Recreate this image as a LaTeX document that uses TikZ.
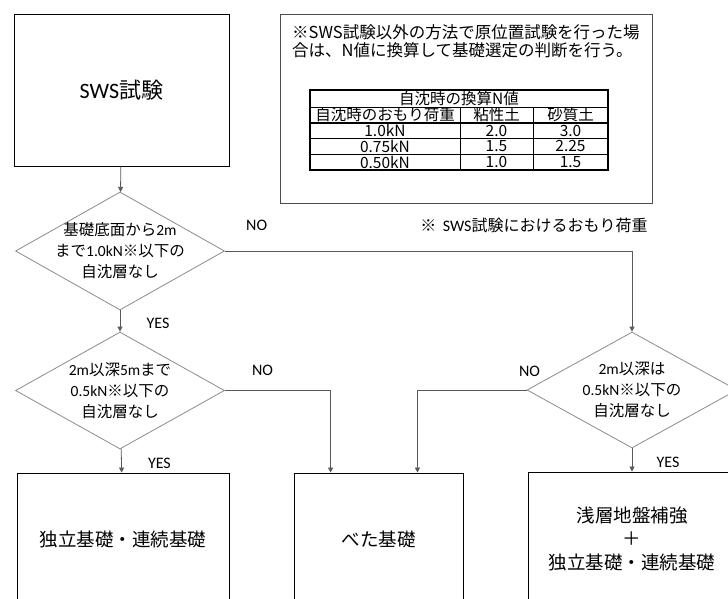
\documentclass[tikz,border=0pt]{standalone}
\usepackage{fontspec}
\setmainfont{Noto Sans CJK JP}
\newfontfamily\lat{Carlito}
\usetikzlibrary{positioning}
\usetikzlibrary{shapes.geometric}
\usetikzlibrary{arrows.meta}
\tikzset{>={Triangle[width=5pt,length=5pt]}}
\tikzset{
	box/.style={draw, line width=0.9pt, inner sep=0pt},
	decision/.style={draw=black!45, line width=0.8pt, shape=diamond, inner sep=0pt, minimum width=209pt, minimum height=118pt},
	dtext/.style={align=center, inner sep=0pt, font=\fontsize{15.5}{21}\selectfont},
	btext/.style={align=center, inner sep=0pt, font=\fontsize{18.5}{23.5}\selectfont},
	tabtext/.style={inner sep=0pt, font=\fontsize{15.5}{16}\selectfont},
	yesno/.style={inner sep=0pt, font=\lat\fontsize{16}{16}\selectfont},
	conn/.style={draw=black!65, line width=0.8pt, ->}
}

\begin{document}
\begin{tikzpicture}[x=1pt, y=-1pt]
	\clip (0,0) rectangle (728,598);
	\fill[white] (0,0) rectangle (728,598);

	\node (SWS) [box, minimum width=215pt, minimum height=152pt, font=\fontsize{22}{26}\selectfont] at (121.5,90) {{\lat SWS}試験};

	\node (D1) [decision] at (120,251) {};
	\node (D1T) [dtext] at (D1) {基礎底面から{\lat 2m}\\まで{\lat 1.0kN}※以下の\\自沈層なし};
	\node (D2) [decision, minimum height=117pt] at (120,390.5) {};
	\node (D2T) [dtext] at (D2) {{\lat 2m}以深{\lat 5m}まで\\{\lat 0.5kN}※以下の\\自沈層なし};
	\node (D3) [decision, minimum width=210pt, minimum height=116pt] at (632,390) {};
	\node (D3T) [dtext] at (D3) {{\lat 2m}以深は\\{\lat 0.5kN}※以下の\\自沈層なし};

	\node (IND) [box, minimum width=212pt, minimum height=132pt] at (123,539) {};
	\node (INDT) [btext] at (IND) {独立基礎・連続基礎};
	\node (MAT) [box, minimum width=169pt, minimum height=132pt] at (378.5,539) {};
	\node (MATT) [btext] at (MAT) {べた基礎};
	\node (IMP) [box, minimum width=208pt, minimum height=133pt] at (632,538.5) {};
	\node (IMPT) [btext] at (IMP) {浅層地盤補強\\＋\\独立基礎・連続基礎};

	% note with the conversion table
	\node (NOTE) [draw=black!70, line width=0.8pt, minimum width=372pt, minimum height=189pt] at (466,108.5) {};
	\node (NOTET) [anchor=west, align=left, inner sep=0pt, font=\fontsize{16.5}{18}\selectfont] at (292,41) {※SWS試験以外の方法で原位置試験を行った場\\合は、N値に換算して基礎選定の判断を行う。};
	\draw[line width=1.2pt] (310,90) rectangle (608,170);
	\draw[line width=0.7pt] (310,107) -- (608,107);
	\draw[line width=1.2pt] (310,123) -- (608,123);
	\foreach \y in {138,154} \draw[line width=0.7pt] (310,\y) -- (608,\y);
	\foreach \x in {460,533} \draw[line width=0.9pt] (\x,107) -- (\x,170);
	\node (TT) [tabtext] at (459,98.5) {自沈時の換算N値};
	\node (TH1) [tabtext] at (385,115) {自沈時のおもり荷重};
	\node (TH2) [tabtext] at (496.5,115) {粘性土};
	\node (TH3) [tabtext] at (570.5,115) {砂質土};
	\foreach \y/\a/\b/\c [count=\i] in {130.5/1.0kN/2.0/3.0, 146/0.75kN/1.5/2.25, 162/0.50kN/1.0/1.5} {
		\node (TA\i) [tabtext] at (385,\y) {\a};
		\node (TB\i) [tabtext] at (496.5,\y) {\b};
		\node (TC\i) [tabtext] at (570.5,\y) {\c};
	}
	\node (REM) [inner sep=0pt, font=\fontsize{16}{18}\selectfont] at (534,225) {※\hspace{0.4em}{\lat SWS}試験におけるおもり荷重};

	\path [conn] (SWS) -- (D1);
	\path [conn] (D1) -- node [yesno, xshift=38pt, yshift=-2pt] {YES} (D2);
	\path [conn] (D2) -- node [yesno, xshift=38pt, yshift=-3pt] {YES} (IND);
	\path [conn] (D3) -- node [yesno, xshift=36pt, yshift=-2pt] {YES} (IMP);
	\path [conn] (D1.east) -| node [yesno, pos=0.039, yshift=26pt] {NO} (D3.north);
	\path [conn] (D2.east) -| node [yesno, pos=0.178, yshift=20pt] {NO} ([xshift=37pt]MAT.north west);
	\path [conn] (D3.west) -| node [yesno, pos=0, xshift=3pt, yshift=19pt] {NO} ([xshift=-46pt]MAT.north east);
\end{tikzpicture}
\end{document}
